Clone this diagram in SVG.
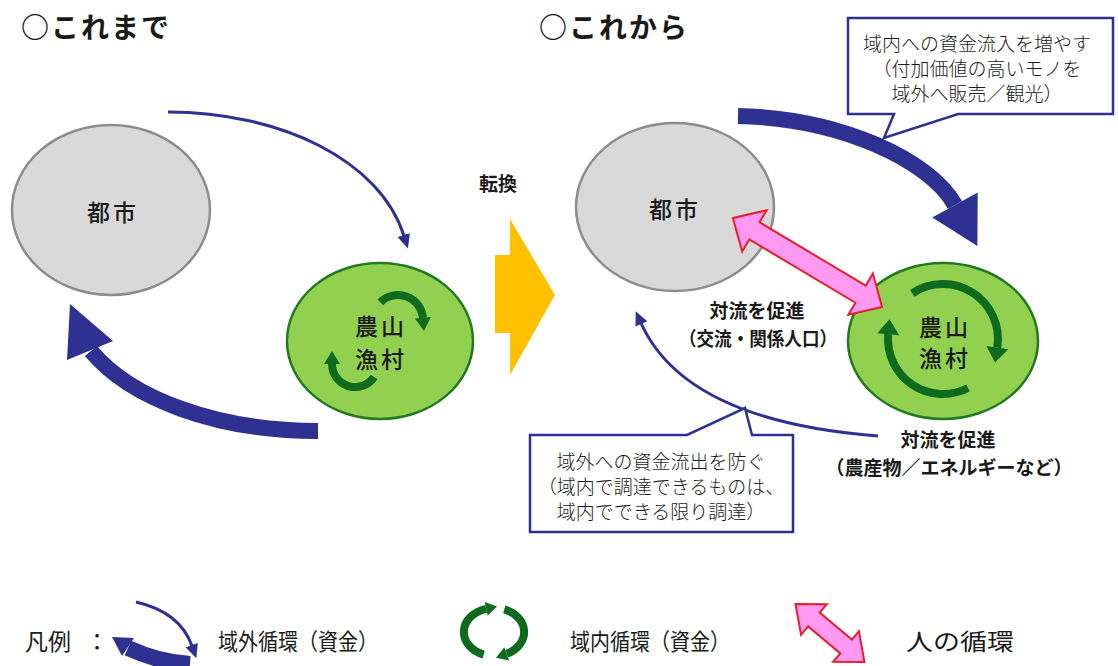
<svg xmlns="http://www.w3.org/2000/svg" width="1118" height="666" viewBox="0 0 1118 666">
<style>
text{font-family:"Noto Sans CJK JP","Noto Sans",sans-serif;fill:#1a1a1a}
.title{font-size:28px;font-weight:700;letter-spacing:2px}
.lbl{font-size:23px;font-weight:500;letter-spacing:3px}
.bold{font-size:19px;font-weight:700}
.note{font-size:19px;font-weight:300}
.leg{font-size:23px;font-weight:400}
.city{fill:#d9d9d9;stroke:#8c8c8c;stroke-width:2.5}
.rural{fill:#92d050;stroke:#217a21;stroke-width:2.5}
.thin{fill:none;stroke:#2e3192;stroke-width:3}
.thick{fill:none;stroke:#2e3192;stroke-width:16}
.navy{fill:#2e3192}
.garc{fill:none;stroke:#0e6a1c;stroke-width:8}
.ghead{fill:#0e6a1c}
.pink{fill:#ff99f2;stroke:#e3202c;stroke-width:2;stroke-linejoin:miter}
.callout{fill:#fff;stroke:#2e3192;stroke-width:2.5}
</style>
<defs>
<marker id="thinHead" markerUnits="userSpaceOnUse" markerWidth="16" markerHeight="14" refX="1" refY="6.5" orient="auto">
<path d="M0,0 L14,6.5 L0,13 Z" fill="#2e3192"/>
</marker>
</defs>
<rect width="1118" height="666" fill="#fff"/>

<g id="titles">
<text class="title" x="21" y="38">○これまで</text>
<text class="title" x="539" y="38">○これから</text>
</g>

<g id="city-before">
<ellipse class="city" cx="111" cy="210" rx="99" ry="85"/>
<text class="lbl" x="113" y="211" text-anchor="middle" dominant-baseline="central">都市</text>
</g>

<g id="rural-before">
<ellipse class="rural" cx="380" cy="341" rx="93" ry="78"/>
<text class="lbl" x="381" y="325" text-anchor="middle" dominant-baseline="central">農山</text>
<text class="lbl" x="381" y="358" text-anchor="middle" dominant-baseline="central">漁村</text>
<path class="garc" d="M380.3,302.3 A25,25 0 0 1 422.9,317.8"/>
<polygon class="ghead" points="430.9,317.1 414.9,318.5 424,331"/>
<path class="garc" d="M374.1,376.9 A23,23 0 0 1 332,364"/>
<polygon class="ghead" points="324,364 340,364 332,351"/>
</g>

<g id="shift">
<polygon points="495,255 510,255 510,219 555,295 510,375 510,333 495,333" fill="#ffc000"/>
<text class="bold" x="498" y="182" font-size="21" text-anchor="middle" dominant-baseline="central">転換</text>
</g>

<g id="city-after">
<ellipse class="city" cx="675" cy="207" rx="99" ry="84"/>
<text class="lbl" x="675" y="208" text-anchor="middle" dominant-baseline="central">都市</text>
</g>

<g id="rural-after">
<ellipse class="rural" cx="943" cy="341" rx="95" ry="78"/>
<text class="lbl" x="945" y="326" text-anchor="middle" dominant-baseline="central">農山</text>
<text class="lbl" x="945" y="357" text-anchor="middle" dominant-baseline="central">漁村</text>
<path class="garc" d="M912.3,293.4 A55,55 0 0 1 997.3,347.6" stroke-width="9"/>
<polygon class="ghead" points="1008.2,349.3 986.4,345.9 995,362.4"/>
<path class="garc" d="M968,388 A55,55 0 0 1 888.2,334.2" stroke-width="9"/>
<polygon class="ghead" points="899.2,335.2 877.2,333.2 889.5,319.3"/>
</g>

<g id="connectors">
<path class="thin" d="M168,112 C280,112 380,160 404,236" marker-end="url(#thinHead)"/>
<path class="thick" d="M318,431 C215,431 130,398 91,351"/>
<polygon class="navy" points="70,304 113,341 67,360"/>
<path class="thick" d="M738,116 C840,118 930,160 955,205" stroke-width="17"/>
<polygon class="navy" points="977.7,192.4 932.3,217.6 977.4,246"/>
<path class="thin" d="M878,436 C800,430 680,410 641,323" marker-end="url(#thinHead)"/>
<polygon class="pink" transform="translate(807.5,262.5) rotate(30.8)" points="-86.8,0 -61.8,-24 -61.8,-10 61.8,-10 61.8,-24 86.8,0 61.8,24 61.8,10 -61.8,10 -61.8,24"/>
</g>

<g id="label-people">
<text class="bold" x="757" y="309" text-anchor="middle" dominant-baseline="central">対流を促進</text>
<text class="bold" x="758" y="337" text-anchor="middle" dominant-baseline="central" textLength="158" lengthAdjust="spacingAndGlyphs">（交流・関係人口）</text>
</g>

<g id="label-goods">
<text class="bold" x="948" y="438" text-anchor="middle" dominant-baseline="central">対流を促進</text>
<text class="bold" x="949" y="466" text-anchor="middle" dominant-baseline="central">（農産物／エネルギーなど）</text>
</g>

<g id="callout-inflow">
<path class="callout" d="M848,18 H1113 V114 H958 L884,138 L894,114 H848 Z"/>
<text class="note" x="977" y="42" text-anchor="middle" dominant-baseline="central">域内への資金流入を増やす</text>
<text class="note" x="977" y="67" text-anchor="middle" dominant-baseline="central">（付加価値の高いモノを</text>
<text class="note" x="977" y="92" text-anchor="middle" dominant-baseline="central">域外へ販売／観光）</text>
</g>

<g id="callout-outflow">
<path class="callout" d="M530,435 H687 L745,408 L752,435 H793 V532 H530 Z"/>
<text class="note" x="661" y="460" text-anchor="middle" dominant-baseline="central">域外への資金流出を防ぐ</text>
<text class="note" x="661" y="485" text-anchor="middle" dominant-baseline="central">（域内で調達できるものは、</text>
<text class="note" x="661" y="510" text-anchor="middle" dominant-baseline="central">域内でできる限り調達）</text>
</g>

<g id="legend">
<text class="leg" x="25" y="640" dominant-baseline="central">凡例</text>
<text class="leg" x="97" y="640" text-anchor="middle" dominant-baseline="central">：</text>
<path class="thin" d="M136,602 Q180,612 192,646" stroke-width="2.5" marker-end="url(#thinHead)"/>
<path class="thick" d="M190,664 Q158,662 128,648" stroke-width="7"/>
<polygon class="navy" points="134,638 122,656 112,637"/>
<text class="leg" x="218" y="640" dominant-baseline="central" textLength="160" lengthAdjust="spacingAndGlyphs">域外循環（資金）</text>
<path class="garc" d="M483.7,654.6 A30,24 0 0 1 486.2,608.8" stroke-width="7"/>
<polygon class="ghead" points="487.7,615.6 484.7,602 497,606.5"/>
<path class="garc" d="M504.3,609.4 A30,24 0 0 1 506.7,653.8" stroke-width="7"/>
<polygon class="ghead" points="509.1,660.4 504.3,647.2 496,657.8"/>
<text class="leg" x="570" y="640" dominant-baseline="central" textLength="160" lengthAdjust="spacingAndGlyphs">域内循環（資金）</text>
<polygon class="pink" transform="translate(830,633) rotate(40)" points="-45,0 -21,-20 -21,-9 21,-9 21,-20 45,0 21,20 21,9 -21,9 -21,20"/>
<text class="leg" x="906" y="640" dominant-baseline="central" textLength="108" lengthAdjust="spacingAndGlyphs">人の循環</text>
</g>
</svg>
